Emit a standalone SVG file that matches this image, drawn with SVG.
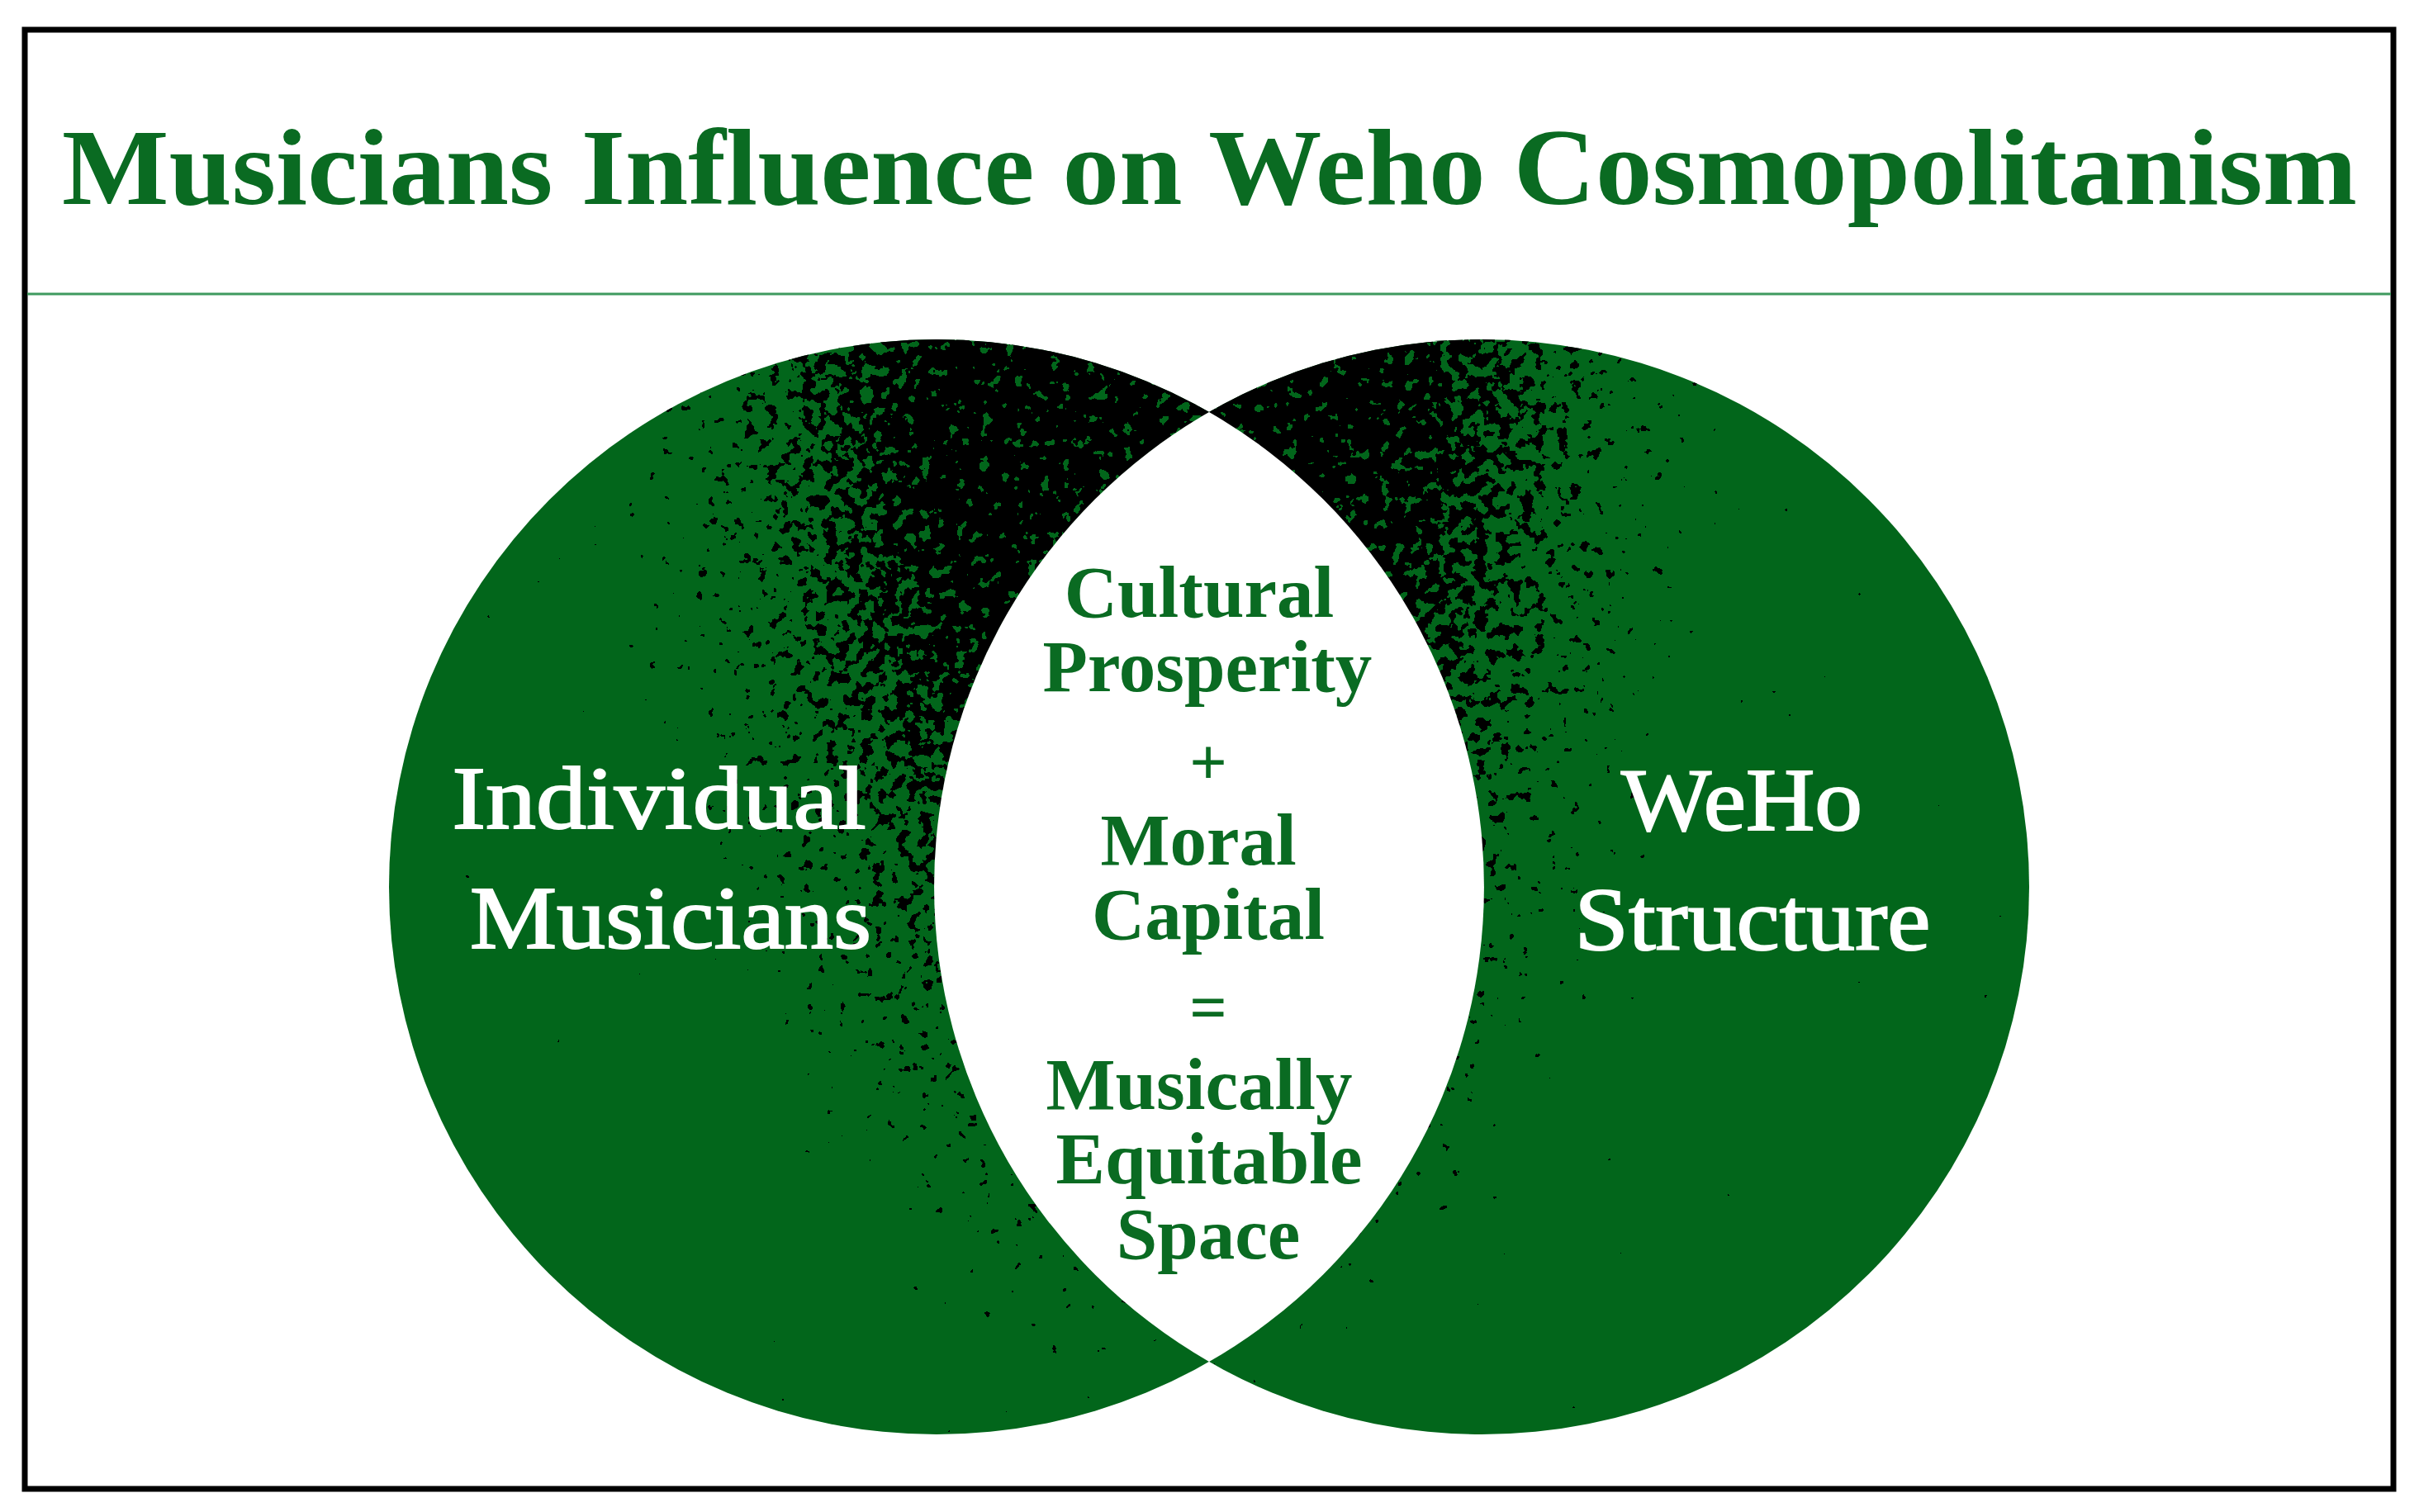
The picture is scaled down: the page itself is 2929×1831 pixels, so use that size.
<svg xmlns="http://www.w3.org/2000/svg" width="2929" height="1831" viewBox="0 0 2929 1831">
<style>
.title{font-family:"Liberation Serif",serif;font-weight:bold;font-size:131px;fill:#0a6b22}
.lbl{font-family:"Liberation Serif",serif;font-size:107px;fill:#ffffff;stroke:#ffffff;stroke-width:2;text-anchor:middle}
.lens{font-family:"Liberation Serif",serif;font-weight:bold;font-size:89px;fill:#0a6b22;text-anchor:middle}
.op{font-family:"Liberation Serif",serif;font-weight:bold;font-size:80px;fill:#0a6b22;text-anchor:middle}
.circ{fill:#02661b}
.speck{filter:url(#speck)}
</style>
<defs>
<radialGradient id="dens" gradientUnits="userSpaceOnUse" cx="1410" cy="400" r="720" gradientTransform="translate(1410 400) scale(1 1.9) translate(-1410 -400)">
<stop offset="0" stop-color="#000" stop-opacity="1"/>
<stop offset="0.4" stop-color="#000" stop-opacity="1"/>
<stop offset="0.7" stop-color="#000" stop-opacity="0.45"/>
<stop offset="1" stop-color="#000" stop-opacity="0"/>
</radialGradient>
<filter id="speck" filterUnits="userSpaceOnUse" x="400" y="380" width="2100" height="1400" color-interpolation-filters="sRGB">
<feTurbulence type="fractalNoise" baseFrequency="0.07" numOctaves="3" seed="7" result="n"/>
<feComposite in="n" in2="SourceAlpha" operator="arithmetic" k1="0" k2="1" k3="0.57" k4="-0.4" result="v"/>
<feComponentTransfer in="v" result="t"><feFuncA type="discrete" tableValues="0 1"/></feComponentTransfer>
<feFlood flood-color="#000000" result="f"/>
<feComposite in="f" in2="t" operator="in"/>
</filter>
<clipPath id="clipL"><circle cx="1134" cy="1074" r="663"/></clipPath>
<clipPath id="clipR"><circle cx="1794" cy="1074" r="663"/></clipPath>
</defs>
<rect x="0" y="0" width="2929" height="1831" fill="#ffffff"/>
<rect id="frame" x="30" y="36" width="2868" height="1767" fill="none" stroke="#000" stroke-width="7"/>
<g id="title">
<text class="title" x="75" y="247" textLength="2779" lengthAdjust="spacingAndGlyphs">Musicians Influence on Weho Cosmopolitanism</text>
<line x1="33" y1="356" x2="2895" y2="356" stroke="#3f9a5e" stroke-width="3"/>
</g>
<g id="node-individual-musicians">
<circle class="circ" cx="1134" cy="1074" r="663"/>
<g clip-path="url(#clipL)"><rect class="speck" x="400" y="380" width="2100" height="1400" fill="url(#dens)"/></g>
<text class="lbl" x="798" y="1003" textLength="501" lengthAdjust="spacingAndGlyphs">Individual</text>
<text class="lbl" x="812" y="1148" textLength="486" lengthAdjust="spacingAndGlyphs">Musicians</text>
</g>
<g id="node-weho-structure">
<circle class="circ" cx="1794" cy="1074" r="663"/>
<g clip-path="url(#clipR)"><rect class="speck" x="400" y="380" width="2100" height="1400" fill="url(#dens)"/></g>
<text class="lbl" x="2109" y="1005" textLength="292" lengthAdjust="spacingAndGlyphs">WeHo</text>
<text class="lbl" x="2122" y="1150" textLength="431" lengthAdjust="spacingAndGlyphs">Structure</text>
</g>
<g id="node-intersection">
<path d="M 1464 499 A 663 663 0 0 1 1464 1649 A 663 663 0 0 1 1464 499 Z" fill="#ffffff"/>
<text class="lens" x="1452" y="747">Cultural</text>
<text class="lens" x="1462" y="837">Prosperity</text>
<text class="op" x="1463" y="950">+</text>
<text class="lens" x="1451" y="1047">Moral</text>
<text class="lens" x="1463" y="1137">Capital</text>
<text class="op" x="1463" y="1247">=</text>
<text class="lens" x="1452" y="1343">Musically</text>
<text class="lens" x="1464" y="1433">Equitable</text>
<text class="lens" x="1463" y="1524">Space</text>
</g>
</svg>
